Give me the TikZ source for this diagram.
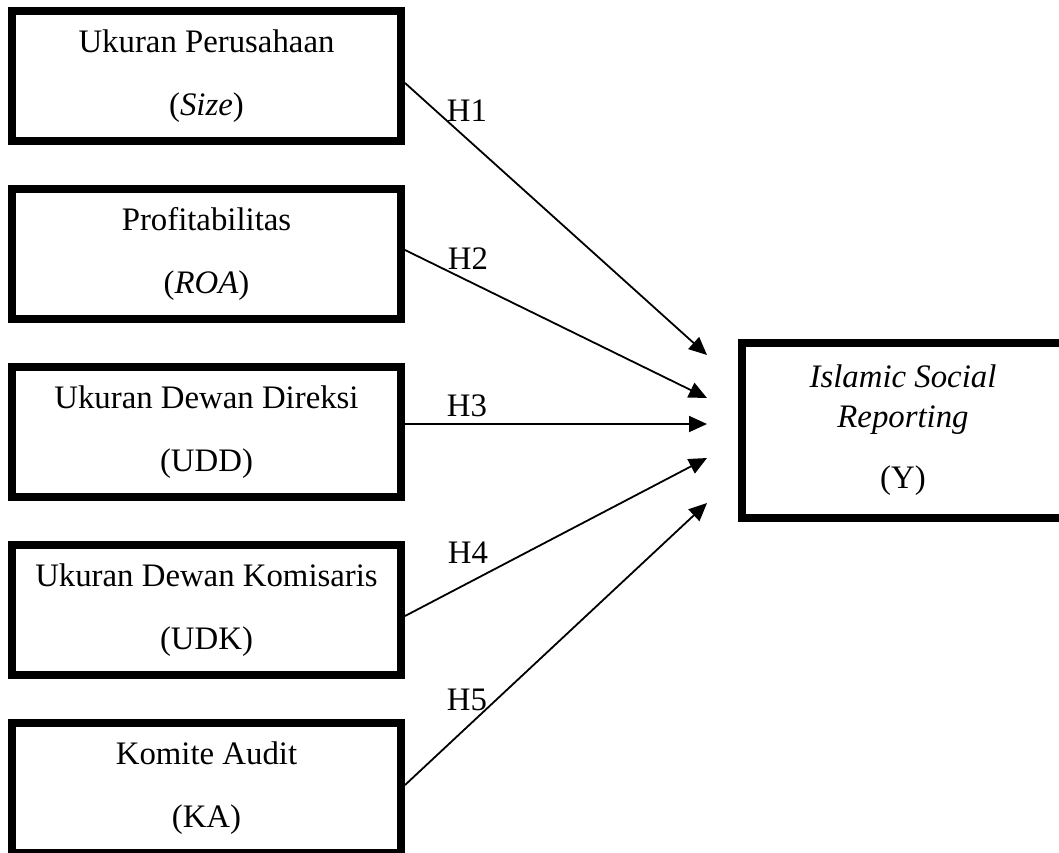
\documentclass[tikz,border=0pt]{standalone}
\usepackage{fontspec}
\setmainfont{Liberation Serif}
\usetikzlibrary{positioning,arrows.meta}
\newcommand{\mainfs}{\fontsize{16.4}{19.7}\selectfont}

\begin{document}
\begin{tikzpicture}[
        x=0.5pt, y=-0.5pt,
        node distance=20pt,
        varbox/.style={rectangle, draw, line width=4pt, fill=white,
            minimum width=194.5pt,
            minimum height=65pt,
            align=center, font=\mainfs},
        hyp/.style={font=\mainfs, inner sep=0pt},
        link/.style={-{Triangle[length=9pt,width=8pt]}, line width=0.9pt}
    ]
        \useasboundingbox (0,0) rectangle (1059,852);

        % Independent variables
        \node[varbox] (size) at (206.5,76) {Ukuran Perusahaan\\[11.8pt](\textit{Size})};
        \node[varbox, below=of size] (roa) {Profitabilitas\\[11.8pt](\textit{ROA})};
        \node[varbox, below=of roa] (udd) {Ukuran Dewan Direksi\\[11.8pt](UDD)};
        \node[varbox, below=of udd] (udk) {Ukuran Dewan Komisaris\\[11.8pt](UDK)};
        \node[varbox, below=of udk] (ka) {Komite Audit\\[11.8pt](KA)};

        % Dependent variable
        \node[varbox, minimum width=161pt, minimum height=87.5pt] (isr) at (903,430.5)
            {\textit{Islamic Social}\\\textit{Reporting}\\[11pt](Y)};

        % Arrow ends
        \coordinate (e1) at (707,355);
        \coordinate (e2) at (707,398);
        \coordinate (e3) at (707,424);
        \coordinate (e4) at (707,458);
        \coordinate (e5) at (707,503);

        % Connections
        \draw[link] ([yshift=-3.5pt]size.east) -- (e1);
        \draw[link] ([yshift=2pt]roa.east) -- (e2);
        \draw[link] ([yshift=4pt]udd.east) -- (e3);
        \draw[link] ([yshift=-3pt]udk.east) -- (e4);
        \draw[link] ([yshift=1.5pt]ka.east) -- (e5);

        % Hypothesis labels
        \node[hyp] (h1) at (467,111) {H1};
        \node[hyp] (h2) at (468,259) {H2};
        \node[hyp] (h3) at (467,406) {H3};
        \node[hyp] (h4) at (468,553) {H4};
        \node[hyp] (h5) at (467,700) {H5};
    \end{tikzpicture}
\end{document}
